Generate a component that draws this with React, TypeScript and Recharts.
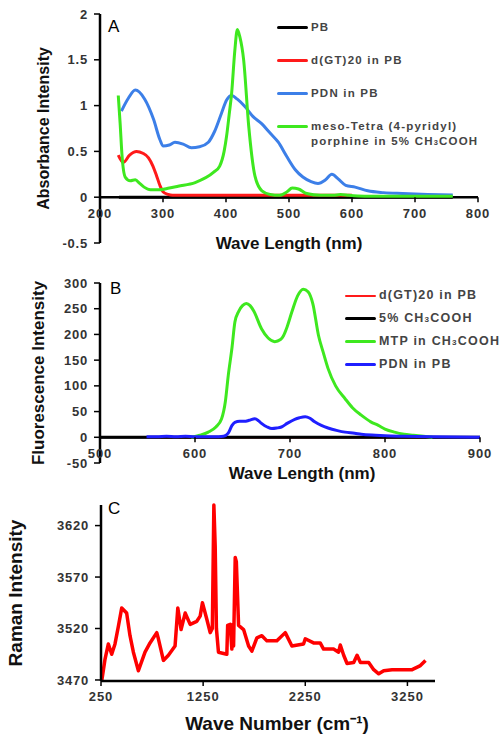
import React from 'react';
import { LineChart, Line, XAxis, YAxis, ReferenceLine, Legend } from 'recharts';

const FONT = '"Liberation Sans", Arial, sans-serif';

// ---- Panel A: absorbance ----
const pbAX = [230, 400, 600, 760];
const pbAY = [0, 0, 0, 0];
const gtAX = [229, 237, 247, 258, 268, 277, 284, 290, 295, 300, 308, 315, 350, 400, 450, 500, 550, 600];
const gtAY = [0.46, 0.38, 0.46, 0.5, 0.48, 0.43, 0.34, 0.23, 0.13, 0.06, 0.03, 0.02, 0.02, 0.02, 0.02, 0.02, 0.02, 0.02];
const pdnAX = [234, 245, 256, 271, 285, 295, 300, 310, 319, 332, 345, 358, 372, 382, 393, 401, 409, 418, 430, 443, 457, 470, 483, 496, 510, 522, 535, 546, 558, 568, 578, 590, 605, 625, 650, 680, 720, 760];
const pdnAY = [0.94, 1.08, 1.17, 1.07, 0.85, 0.63, 0.56, 0.57, 0.6, 0.58, 0.54, 0.55, 0.6, 0.72, 0.92, 1.06, 1.11, 1.07, 0.99, 0.88, 0.8, 0.7, 0.6, 0.45, 0.3, 0.22, 0.17, 0.15, 0.19, 0.25, 0.2, 0.13, 0.11, 0.07, 0.05, 0.04, 0.03, 0.025];
const mtpAX = [229, 232, 235, 240, 248, 256, 263, 270, 280, 293, 310, 324, 351, 380, 390, 397, 401, 405, 409, 414, 418, 422, 428, 436, 446, 457, 470, 485, 497, 505, 515, 528, 550, 570, 582, 595, 620, 680, 760];
const mtpAY = [1.11, 0.8, 0.45, 0.22, 0.18, 0.19, 0.15, 0.11, 0.08, 0.08, 0.1, 0.12, 0.16, 0.27, 0.34, 0.5, 0.67, 0.9, 1.14, 1.6, 1.83, 1.75, 1.5, 0.78, 0.23, 0.07, 0.03, 0.02, 0.06, 0.1, 0.09, 0.04, 0.02, 0.02, 0.03, 0.02, 0.01, 0.01, 0.01];
const ticksAX = [200, 300, 400, 500, 600, 700, 800];
const ticksAY = [-0.5, 0, 0.5, 1, 1.5, 2];

// ---- Panel B: fluorescence ----
const gtBX = [550, 700, 900];
const gtBY = [0, 0, 0];
const acidBX = [500, 700, 900];
const acidBY = [0, 0, 0];
const mtpBX = [596, 605, 614, 622, 628, 632, 635, 639, 642, 646, 650, 654, 658, 662, 670, 677, 684, 690, 693, 697, 702, 708, 714, 719, 724, 730, 735, 740, 748, 758, 766, 775, 785, 793, 800, 810, 820, 830, 850];
const mtpBY = [0, 4, 10, 20, 36, 70, 120, 175, 224, 245, 256, 260, 256, 245, 211, 193, 186, 190, 197, 215, 244, 275, 288, 283, 260, 198, 165, 134, 100, 75, 57, 43, 30, 23, 16, 10, 6, 4, 0];
const pdnBX = [549, 560, 570, 580, 590, 600, 610, 620, 630, 635, 639, 642, 647, 652, 657, 663, 667, 670, 676, 681, 686, 691, 697, 705, 710, 716, 721, 726, 733, 740, 750, 758, 768, 775, 790, 800, 820, 850, 900];
const pdnBY = [1, 1, 2, 1, 2, 1, 1, 1, 2, 8, 23, 29, 31, 31, 33, 36, 32, 27, 20, 17, 18, 20, 27, 35, 38, 40, 37, 30, 23, 18, 13, 10, 8, 6, 4, 3, 2, 1, 0];
const ticksBX = [500, 600, 700, 800, 900];
const ticksBY = [-50, 0, 50, 100, 150, 200, 250, 300];

// ---- Panel C: Raman ----
const ramanX = [257, 289, 322, 355, 387, 420, 453, 501, 534, 567, 616, 681, 730, 796, 812, 861, 910, 975, 1002, 1034, 1074, 1123, 1188, 1221, 1243, 1286, 1319, 1340, 1355, 1368, 1380, 1400, 1440, 1482, 1490, 1515, 1531, 1540, 1548, 1564, 1575, 1597, 1646, 1695, 1727, 1776, 1825, 1874, 1972, 2054, 2119, 2233, 2250, 2331, 2396, 2429, 2527, 2576, 2593, 2626, 2659, 2724, 2757, 2790, 2871, 2920, 2969, 3018, 3100, 3181, 3296, 3377, 3427];
const ramanY = [3469, 3490, 3505, 3495, 3505, 3522, 3540, 3535, 3513, 3497, 3479, 3497, 3506, 3516, 3510, 3489, 3494, 3503, 3540, 3519, 3535, 3524, 3527, 3532, 3545, 3529, 3516, 3520, 3640, 3600, 3520, 3497, 3496, 3495, 3523, 3524, 3500, 3524, 3503, 3589, 3585, 3523, 3519, 3503, 3498, 3511, 3513, 3508, 3508, 3516, 3503, 3505, 3510, 3506, 3506, 3500, 3500, 3497, 3504, 3494, 3486, 3487, 3494, 3487, 3487, 3480, 3476, 3479, 3480, 3480, 3480, 3484, 3489];
const ticksCX = [250, 1250, 2250, 3250];
const ticksCY = [3470, 3520, 3570, 3620];

const pts = (xs: number[], ys: number[]) => xs.map((x, i) => ({ x, y: ys[i] }));

const tickStyle = { fontFamily: FONT, fontSize: 13, fontWeight: 700, fill: '#333', letterSpacing: 0.8 };

// x tick drawn on the zero line (shift = distance from plot bottom to y=0)
const ZeroTick = ({ x, y, payload, shift }: any) => (
  <g transform={`translate(${x},${y - shift})`}>
    <line x1={0} x2={0} y1={0} y2={5} stroke="#000" strokeWidth={1.5} />
    <text y={17} textAnchor="middle" dominantBaseline="middle" {...tickStyle} letterSpacing={1}>
      {payload.value}
    </text>
  </g>
);

const XTitle = ({ viewBox, text, dy, dx = 0, size }: any) => (
  <text
    x={viewBox.x + viewBox.width / 2 + dx}
    y={viewBox.y + dy}
    textAnchor="middle"
    dominantBaseline="middle"
    fontFamily={FONT}
    fontWeight={700}
    fontSize={size}
    fill="#111"
  >
    {text}
  </text>
);

const YTitle = ({ viewBox, text, dx, size }: any) => {
  const cx = viewBox.x + dx;
  const cy = viewBox.y + viewBox.height / 2;
  return (
    <text
      x={cx}
      y={cy}
      transform={`rotate(-90, ${cx}, ${cy})`}
      textAnchor="middle"
      dominantBaseline="middle"
      fontFamily={FONT}
      fontWeight={700}
      fontSize={size}
      fill="#111"
    >
      {text}
    </text>
  );
};

const Acid = () => (
  <span>
    CH<sub style={{ fontSize: '0.65em', verticalAlign: 'baseline' }}>3</sub>COOH
  </span>
);

const LegendBox = ({ items, rowH, size, lineW }: any) => (
  <div style={{ fontFamily: FONT, fontWeight: 700, fontSize: size, color: '#444', letterSpacing: 1.2 }}>
    {items.map((it: any, i: number) => (
      <div key={i} style={{ height: rowH, display: 'flex', alignItems: 'flex-start' }}>
        <span
          style={{
            display: 'inline-block',
            width: lineW,
            height: it.w ?? 3,
            background: it.color,
            marginTop: 7.5 - (it.w ?? 3) / 2,
            marginRight: 3,
            borderRadius: 2,
          }}
        />
        <span style={{ lineHeight: '15px' }}>{it.label}</span>
      </div>
    ))}
  </div>
);

const legendA = [
  { color: '#000', label: 'PB' },
  { color: '#ff1a1a', label: 'd(GT)20 in PB' },
  { color: '#3c7fe8', label: 'PDN in PB' },
  {
    color: '#3ee81f',
    label: (
      <span>
        meso-Tetra (4-pyridyl)
        <br />
        porphine in 5% <Acid />
      </span>
    ),
  },
];

const legendB = [
  { color: '#ff1a1a', label: 'd(GT)20 in PB', w: 2 },
  { color: '#000', label: <span>5% <Acid /></span> },
  { color: '#3ee81f', label: <span>MTP in <Acid /></span> },
  { color: '#1f1fff', label: 'PDN in PB' },
];

const letterStyle: React.CSSProperties = {
  position: 'absolute',
  fontFamily: FONT,
  fontSize: 17,
  color: '#000',
  lineHeight: 1,
};

export default function App() {
  return (
    <div style={{ position: 'absolute', left: 0, top: 0, width: 504, height: 748, background: '#fff' }}>
      {/* Panel A */}
      <div style={{ position: 'absolute', left: 0, top: 0 }}>
        <LineChart width={504} height={270} margin={{ top: 14, right: 26, bottom: 7, left: 50 }}>
          <XAxis
            dataKey="x"
            type="number"
            domain={[200, 800]}
            ticks={ticksAX}
            axisLine={false}
            tickLine={false}
            tickSize={0}
            tickMargin={0}
            height={20}
            tick={<ZeroTick shift={229 * 0.5 / 2.5} />}
            label={<XTitle text="Wave Length (nm)" dy={2} size={17} />}
          />
          <YAxis
            type="number"
            domain={[-0.5, 2]}
            ticks={ticksAY}
            width={50}
            axisLine={{ stroke: '#000', strokeWidth: 2.5 }}
            tickLine={{ stroke: '#000', strokeWidth: 1.5 }}
            tickSize={6}
            tickMargin={6}
            tick={tickStyle}
            label={<YTitle text="Absorbance  Intensity" dx={-5} size={16} />}
          />
          <ReferenceLine y={0} stroke="#000" strokeWidth={2.5} />
          <Line data={pts(pbAX, pbAY)} dataKey="y" stroke="#000" strokeWidth={3} dot={false} isAnimationActive={false} />
          <Line data={pts(gtAX, gtAY)} type="monotone" dataKey="y" stroke="#ff1a1a" strokeWidth={3} dot={false} isAnimationActive={false} />
          <Line data={pts(pdnAX, pdnAY)} type="monotone" dataKey="y" stroke="#3c7fe8" strokeWidth={3} dot={false} isAnimationActive={false} />
          <Line data={pts(mtpAX, mtpAY)} type="monotone" dataKey="y" stroke="#3ee81f" strokeWidth={3} dot={false} isAnimationActive={false} />
          <Legend
            layout="vertical"
            align="center"
            verticalAlign="middle"
            wrapperStyle={{ left: 277, top: 20, width: 227 }}
            content={() => <LegendBox items={legendA} rowH={33} size={11.5} lineW={31} />}
          />
        </LineChart>
        <div style={{ ...letterStyle, left: 108, top: 18 }}>A</div>
      </div>

      {/* Panel B */}
      <div style={{ position: 'absolute', left: 0, top: 260 }}>
        <LineChart width={504} height={230} margin={{ top: 23, right: 24, bottom: 7, left: 50 }}>
          <XAxis
            dataKey="x"
            type="number"
            domain={[500, 900]}
            ticks={ticksBX}
            axisLine={false}
            tickLine={false}
            tickSize={0}
            tickMargin={0}
            height={20}
            tick={<ZeroTick shift={180 * 50 / 350} />}
            label={<XTitle text="Wave Length (nm)" dy={12} dx={12} size={17} />}
          />
          <YAxis
            type="number"
            domain={[-50, 300]}
            ticks={ticksBY}
            width={50}
            axisLine={{ stroke: '#000', strokeWidth: 2.5 }}
            tickLine={{ stroke: '#000', strokeWidth: 1.5 }}
            tickSize={6}
            tickMargin={6}
            tick={tickStyle}
            label={<YTitle text="Fluorescence  Intensity" dx={-10} size={17} />}
          />
          <ReferenceLine y={0} stroke="#000" strokeWidth={2.5} />
          <Line data={pts(gtBX, gtBY)} dataKey="y" stroke="#ff1a1a" strokeWidth={2} dot={false} isAnimationActive={false} />
          <Line data={pts(acidBX, acidBY)} dataKey="y" stroke="#000" strokeWidth={3} dot={false} isAnimationActive={false} />
          <Line data={pts(mtpBX, mtpBY)} type="monotone" dataKey="y" stroke="#3ee81f" strokeWidth={3} dot={false} isAnimationActive={false} />
          <Line data={pts(pdnBX, pdnBY)} type="monotone" dataKey="y" stroke="#1f1fff" strokeWidth={3} dot={false} isAnimationActive={false} />
          <Legend
            layout="vertical"
            align="center"
            verticalAlign="middle"
            wrapperStyle={{ left: 345, top: 28, width: 159 }}
            content={() => <LegendBox items={legendB} rowH={23} size={12.5} lineW={31} />}
          />
        </LineChart>
        <div style={{ ...letterStyle, left: 110, top: 20 }}>B</div>
      </div>

      {/* Panel C */}
      <div style={{ position: 'absolute', left: 0, top: 490 }}>
        <LineChart width={504} height={258} margin={{ top: 15, right: 69, bottom: 17, left: 51 }}>
          <XAxis
            dataKey="x"
            type="number"
            domain={[250, 3520]}
            ticks={ticksCX}
            axisLine={{ stroke: '#000', strokeWidth: 2.5 }}
            tickLine={false}
            tickSize={0}
            tickMargin={0}
            height={50}
            tick={<ZeroTick shift={0} />}
            label={<XTitle text="Wave Number (cm⁻¹)" dy={44} dx={9} size={19} />}
          />
          <YAxis
            type="number"
            domain={[3470, 3640]}
            ticks={ticksCY}
            width={50}
            axisLine={{ stroke: '#000', strokeWidth: 2.5 }}
            tickLine={{ stroke: '#000', strokeWidth: 1.5 }}
            tickSize={6}
            tickMargin={6}
            tick={tickStyle}
            label={<YTitle text="Raman Intensity" dx={-34} size={19} />}
          />
          <Line data={pts(ramanX, ramanY)} type="linear" dataKey="y" stroke="#ff0000" strokeWidth={3.5} strokeLinejoin="round" dot={false} isAnimationActive={false} />
        </LineChart>
        <div style={{ ...letterStyle, left: 108, top: 10 }}>C</div>
      </div>
    </div>
  );
}
